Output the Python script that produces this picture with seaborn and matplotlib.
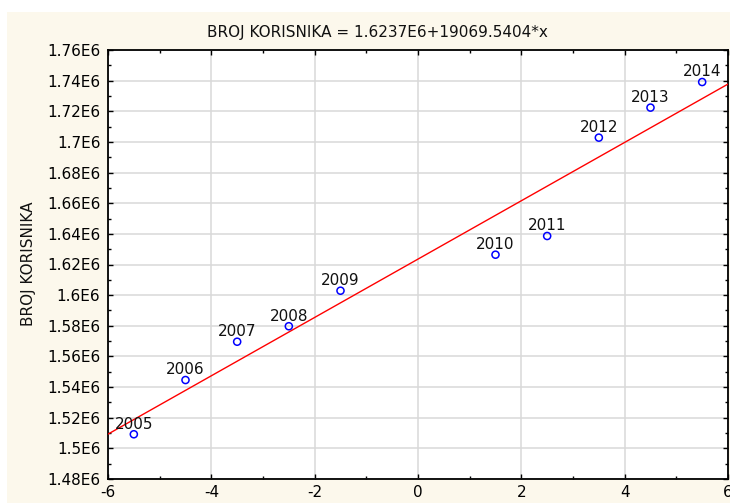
import matplotlib
matplotlib.use("Agg")
import matplotlib.pyplot as plt
import seaborn as sns
import pandas as pd
from matplotlib.ticker import MultipleLocator, FuncFormatter
from matplotlib.patches import Rectangle

# ---- data ----
years = [2005, 2006, 2007, 2008, 2009, 2010, 2011, 2012, 2013, 2014]
x_vals = [-5.5, -4.5, -3.5, -2.5, -1.5, 1.5, 2.5, 3.5, 4.5, 5.5]
users = [1.5092e6, 1.5446e6, 1.5696e6, 1.5797e6, 1.6029e6,
         1.6264e6, 1.6386e6, 1.7028e6, 1.7224e6, 1.7391e6]
title_text = "BROJ KORISNIKA = 1.6237E6+19069.5404*x"
y_label = "BROJ KORISNIKA"
x_ticks = [-6, -4, -2, 0, 2, 4, 6]
y_ticks = [1.48e6, 1.50e6, 1.52e6, 1.54e6, 1.56e6, 1.58e6, 1.60e6,
           1.62e6, 1.64e6, 1.66e6, 1.68e6, 1.70e6, 1.72e6, 1.74e6, 1.76e6]

df = pd.DataFrame({"x": x_vals, "users": users, "year": years})

sns.set_theme(style="white")
plt.rcParams['font.family'] = ['DejaVu Sans']
plt.rcParams['axes.unicode_minus'] = False

FS = 11
W, H = 730, 503
fig = plt.figure(figsize=(W / 100, H / 100), dpi=100, facecolor='white')
fig.patches.append(Rectangle((7 / W, 0), 1, 1 - 12 / H, transform=fig.transFigure,
                             facecolor='#FCF8EC', edgecolor='none', zorder=-10))
ax = fig.add_axes([108 / W, 24 / H, 620 / W, 429 / H])
ax.set_facecolor('white')
ax.set_xlim(-6, 6)
ax.set_ylim(1.48e6, 1.76e6)

sns.regplot(data=df, x="x", y="users", ax=ax, scatter=False, ci=None,
            truncate=False, line_kws=dict(color='#FF0000', lw=1.0, zorder=3))
sns.scatterplot(data=df, x="x", y="users", ax=ax, marker='o', s=26,
                linewidth=1.1, zorder=4, legend=False)
coll = ax.collections[-1]
coll.set_facecolor('none')
coll.set_edgecolor('#0000FF')

for xv, yv, yr in zip(x_vals, users, years):
    ax.annotate(str(yr), (xv, yv), xytext=(0, 4), textcoords='offset points',
                ha='center', va='baseline', fontsize=FS, color='#111111', zorder=5)

ax.set_xlim(-6, 6)
ax.set_ylim(1.48e6, 1.76e6)
ax.set_xticks(x_ticks)
ax.set_yticks(y_ticks)
ax.xaxis.set_minor_locator(MultipleLocator(1))
ax.yaxis.set_minor_locator(MultipleLocator(0.01e6))
ax.yaxis.set_major_formatter(FuncFormatter(lambda v, p: f"{v / 1e6:g}E6"))
ax.xaxis.set_major_formatter(FuncFormatter(lambda v, p: f"{v:g}"))

ax.grid(True, which='major', color='#D9D9D9', lw=1.1)
ax.set_axisbelow(True)
ax.tick_params(which='both', direction='in', top=True, right=True,
               bottom=True, left=True, colors='black', width=1.0)
ax.tick_params(which='major', length=3.5, labelsize=FS)
ax.tick_params(axis='x', which='major', pad=4)
ax.tick_params(axis='y', which='major', pad=5.5)
ax.tick_params(which='minor', length=2.5)
for s in ax.spines.values():
    s.set_color('black')
    s.set_linewidth(1.3)
ax.set_xlabel('')
ax.set_ylabel('')

fig.text(377 / W, 1 - 32 / H, title_text, ha='center', va='center',
         fontsize=FS, color='#111111')
fig.text(29 / W, 1 - 264 / H, y_label, rotation=90, ha='center', va='center',
         fontsize=FS, color='#111111')

fig.savefig("out.png", dpi=100, facecolor=fig.get_facecolor())
